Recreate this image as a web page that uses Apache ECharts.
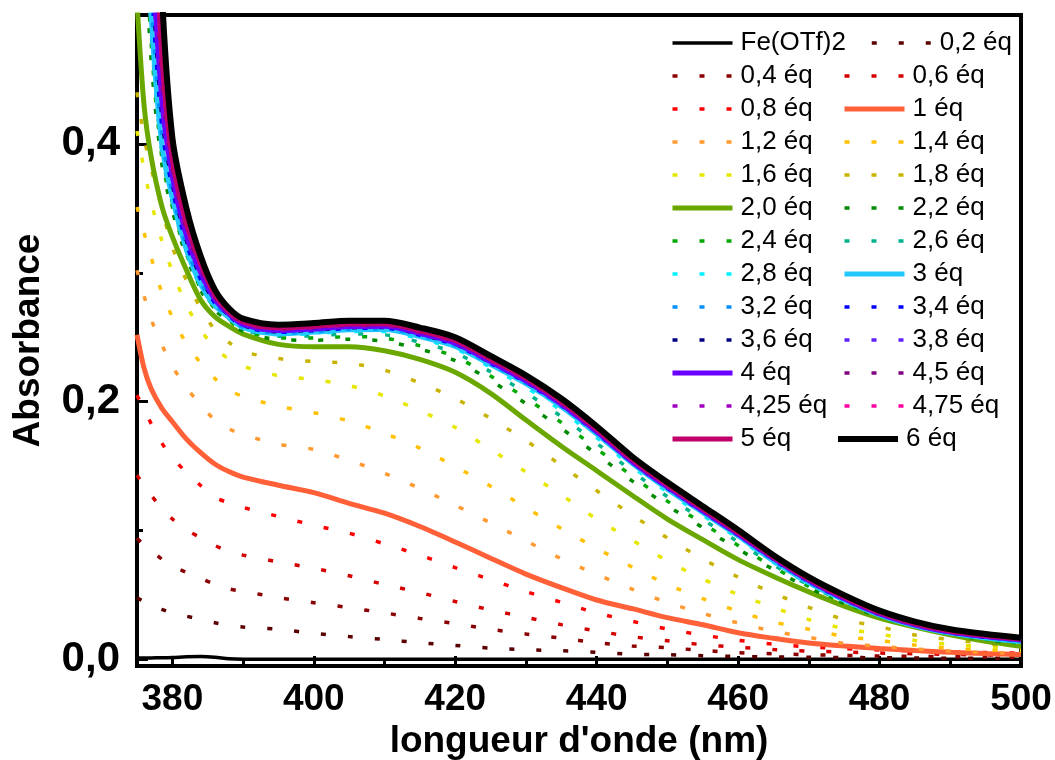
<!DOCTYPE html>
<html><head><meta charset="utf-8">
<script src="https://cdn.jsdelivr.net/npm/echarts@6/dist/echarts.min.js"></script>
<style>html,body{margin:0;padding:0;background:#fff}#c{width:1055px;height:760px}</style>
</head><body><div id="c"></div>
<script>
// wavelength grid (nm)
const wl = [375, 376, 377, 378.5, 380, 382, 384, 386, 388, 390, 395, 400, 405, 410, 415, 420, 425, 430, 435, 440, 445, 450, 455, 460, 465, 470, 475, 480, 485, 490, 495, 500];

const fe    = [0.0012,0.0012,0.0013,0.0014,0.0016,0.0021,0.0023,0.0018,0.0006,0.0003,0.0003,0.0003,0.0003,0.0003,0.0003,0.0003,0.0003,0.0003,0.0003,0.0003,0.0003,0.0003,0.0003,0.0003,0.0003,0.0002,0.0002,0.0002,0.0002,0.0002,0.0002,0.0002];
const eq02  = [0.048,0.045,0.0425,0.039,0.036,0.0336,0.031,0.0286,0.0264,0.0252,0.0235,0.0203,0.0178,0.0156,0.013,0.011,0.0089,0.0077,0.0068,0.0057,0.0041,0.0037,0.003,0.0024,0.002,0.0018,0.0016,0.0014,0.0012,0.001,0.001,0.001];
const eq04  = [0.094,0.089,0.0846,0.078,0.0725,0.0675,0.063,0.0585,0.0548,0.053,0.048,0.0441,0.0402,0.0362,0.0319,0.0279,0.0235,0.0198,0.0166,0.0131,0.0105,0.0091,0.0071,0.0053,0.0045,0.0038,0.0032,0.0028,0.0025,0.0022,0.002,0.0018];
const eq06  = [0.143,0.135,0.1275,0.1175,0.109,0.1005,0.0945,0.0885,0.084,0.081,0.0757,0.0708,0.065,0.0582,0.052,0.045,0.0385,0.0328,0.0271,0.0222,0.0178,0.0145,0.0115,0.0095,0.0078,0.0066,0.0058,0.005,0.0045,0.004,0.0036,0.0033];
const eq08  = [0.205,0.194,0.183,0.168,0.157,0.145,0.135,0.126,0.1215,0.118,0.111,0.1042,0.098,0.0897,0.081,0.0713,0.062,0.0527,0.0444,0.0362,0.0297,0.0237,0.019,0.015,0.012,0.0098,0.0085,0.0075,0.0067,0.006,0.0055,0.005];
const eq10  = [0.252,0.226,0.21,0.195,0.1845,0.171,0.1605,0.1517,0.1458,0.1415,0.1352,0.1295,0.1212,0.1135,0.1032,0.0912,0.0786,0.0663,0.0558,0.0462,0.0395,0.0325,0.027,0.0208,0.0165,0.0128,0.0105,0.0085,0.007,0.0057,0.0047,0.0039];
const eq12  = [0.302,0.282,0.264,0.2445,0.2275,0.211,0.1975,0.186,0.179,0.1745,0.167,0.163,0.1545,0.1445,0.1327,0.1197,0.106,0.0921,0.0782,0.0661,0.0546,0.0442,0.0358,0.0284,0.022,0.0172,0.0125,0.0103,0.0082,0.0066,0.0055,0.0048];
const eq14  = [0.351,0.331,0.312,0.285,0.2655,0.245,0.23,0.218,0.209,0.2042,0.1965,0.1915,0.185,0.1755,0.164,0.1497,0.1345,0.1178,0.1016,0.0863,0.0718,0.0583,0.0472,0.0375,0.0292,0.0235,0.018,0.0148,0.0112,0.0088,0.0075,0.0065];
const eq16  = [0.41,0.38,0.355,0.325,0.301,0.275,0.256,0.242,0.233,0.2275,0.2202,0.2172,0.2125,0.2045,0.193,0.18,0.163,0.1455,0.1277,0.109,0.0927,0.0765,0.0625,0.0505,0.0405,0.031,0.024,0.0198,0.0148,0.0118,0.0098,0.008];
const eq18  = [0.44,0.405,0.381,0.35,0.32,0.294,0.2725,0.256,0.246,0.239,0.2335,0.2312,0.2298,0.2245,0.2145,0.2025,0.187,0.1698,0.1505,0.131,0.1122,0.0943,0.078,0.064,0.0515,0.0405,0.031,0.0255,0.019,0.0155,0.0125,0.0095];
const eq20  = [0.51,0.43,0.39,0.352,0.328,0.302,0.279,0.266,0.2585,0.2525,0.2445,0.2426,0.2426,0.2395,0.2328,0.2228,0.2065,0.1858,0.1655,0.1465,0.1275,0.109,0.093,0.0775,0.0645,0.0525,0.0415,0.0322,0.0252,0.0192,0.0142,0.0103];
const eq22  = [0.72,0.57,0.465,0.385,0.348,0.3125,0.2866,0.2712,0.2625,0.2547,0.2482,0.2477,0.2485,0.2469,0.2408,0.2319,0.2165,0.1985,0.1793,0.1593,0.1386,0.1194,0.1024,0.0857,0.0699,0.0556,0.0435,0.0332,0.0256,0.0198,0.0154,0.012];
const eq24  = [0.75,0.59,0.478,0.39,0.351,0.3145,0.2878,0.2722,0.2632,0.2555,0.2495,0.2494,0.2505,0.2494,0.2434,0.2349,0.2199,0.2027,0.1839,0.1636,0.1423,0.1229,0.1056,0.0885,0.0717,0.0567,0.0442,0.0336,0.0258,0.02,0.0158,0.0125];
const eq26  = [0.775,0.605,0.487,0.394,0.354,0.316,0.289,0.273,0.2642,0.2562,0.2507,0.2511,0.2525,0.2519,0.2461,0.2379,0.2232,0.2069,0.1885,0.1679,0.146,0.1264,0.1087,0.0912,0.0735,0.0577,0.0449,0.034,0.026,0.0202,0.0162,0.0131];
const eq28  = [0.8,0.62,0.494,0.397,0.356,0.317,0.2902,0.2739,0.265,0.257,0.252,0.2529,0.2545,0.2544,0.2487,0.241,0.2266,0.2112,0.1931,0.1722,0.1497,0.1299,0.1119,0.094,0.0753,0.0588,0.0456,0.0343,0.0261,0.0204,0.0165,0.0136];
const eq30  = [0.82,0.63,0.5,0.4,0.358,0.318,0.291,0.2745,0.2655,0.2575,0.2528,0.254,0.2558,0.256,0.2505,0.243,0.2288,0.214,0.1962,0.175,0.1522,0.1322,0.114,0.0958,0.0765,0.0595,0.046,0.0345,0.0262,0.0205,0.0168,0.014];
const eq32  = [0.85,0.65,0.514,0.407,0.3614,0.3202,0.2928,0.2755,0.266,0.258,0.2533,0.2545,0.2563,0.2565,0.251,0.2435,0.2293,0.2144,0.1966,0.1754,0.1525,0.1325,0.1143,0.0961,0.0769,0.0598,0.0462,0.0347,0.0264,0.0207,0.017,0.0142];
const eq34  = [0.88,0.67,0.528,0.414,0.3648,0.3224,0.2946,0.2765,0.2665,0.2585,0.2538,0.255,0.2568,0.257,0.2515,0.244,0.2297,0.2148,0.197,0.1757,0.1528,0.1328,0.1146,0.0964,0.0773,0.0602,0.0465,0.0349,0.0265,0.0208,0.0172,0.0145];
const eq36  = [0.91,0.69,0.542,0.421,0.3682,0.3246,0.2964,0.2775,0.267,0.259,0.2543,0.2555,0.2573,0.2575,0.252,0.2445,0.2302,0.2153,0.1973,0.1761,0.1531,0.1332,0.1149,0.0966,0.0777,0.0605,0.0467,0.0351,0.0267,0.021,0.0174,0.0147];
const eq38  = [0.94,0.71,0.556,0.428,0.3716,0.3268,0.2982,0.2785,0.2675,0.2595,0.2548,0.256,0.2578,0.258,0.2525,0.245,0.2306,0.2157,0.1977,0.1765,0.1534,0.1335,0.1152,0.0969,0.0781,0.0609,0.0469,0.0353,0.0268,0.0211,0.0176,0.0149];
const eq40  = [0.97,0.73,0.57,0.435,0.375,0.329,0.3,0.2795,0.268,0.26,0.2553,0.2565,0.2583,0.2585,0.253,0.2455,0.2311,0.2161,0.1981,0.1768,0.1537,0.1338,0.1155,0.0972,0.0785,0.0612,0.0472,0.0355,0.027,0.0213,0.0178,0.0152];
const eq425 = [1.01,0.76,0.59,0.444,0.378,0.331,0.302,0.2804,0.2685,0.2605,0.2558,0.257,0.2588,0.259,0.2535,0.246,0.2316,0.2166,0.1986,0.1773,0.1541,0.1342,0.1159,0.0976,0.0788,0.0615,0.0475,0.0358,0.0272,0.0215,0.018,0.0154];
const eq45  = [1.05,0.79,0.61,0.453,0.3815,0.3335,0.3035,0.2812,0.2689,0.261,0.2563,0.2575,0.2593,0.2595,0.254,0.2465,0.2321,0.2171,0.1991,0.1778,0.1545,0.1346,0.1163,0.0979,0.079,0.0618,0.0478,0.036,0.0275,0.0217,0.0182,0.0156];
const eq475 = [1.08,0.82,0.63,0.461,0.385,0.3358,0.3053,0.2821,0.2694,0.2615,0.2568,0.258,0.2598,0.26,0.2545,0.247,0.2326,0.2176,0.1996,0.1783,0.1549,0.135,0.1166,0.0983,0.0792,0.0621,0.0481,0.0362,0.0278,0.0219,0.0184,0.0158];
const eq50  = [1.12,0.85,0.65,0.47,0.388,0.338,0.307,0.283,0.2698,0.262,0.2573,0.2585,0.2603,0.2605,0.255,0.2475,0.2331,0.2181,0.2001,0.1787,0.1553,0.1354,0.117,0.0986,0.0795,0.0625,0.0485,0.0365,0.028,0.0222,0.0187,0.016];
const eq60  = [1.3,1.0,0.75,0.52,0.405,0.35,0.313,0.287,0.2725,0.2645,0.2598,0.261,0.2628,0.2628,0.2575,0.25,0.2355,0.2205,0.2025,0.181,0.1575,0.1375,0.119,0.1005,0.081,0.064,0.05,0.038,0.0295,0.0235,0.0198,0.017];

const names = ['Fe(OTf)2','0,2 éq','0,4 éq','0,6 éq','0,8 éq','1 éq','1,2 éq','1,4 éq','1,6 éq','1,8 éq','2,0 éq','2,2 éq','2,4 éq','2,6 éq','2,8 éq','3 éq','3,2 éq','3,4 éq','3,6 éq','3,8 éq','4 éq','4,25 éq','4,5 éq','4,75 éq','5 éq','6 éq'];
const values = [fe,eq02,eq04,eq06,eq08,eq10,eq12,eq14,eq16,eq18,eq20,eq22,eq24,eq26,eq28,eq30,eq32,eq34,eq36,eq38,eq40,eq425,eq45,eq475,eq50,eq60];

// legend layout (columns)
const legCol1 = ['Fe(OTf)2','0,4 éq','0,8 éq','1,2 éq','1,6 éq','2,0 éq','2,4 éq','2,8 éq','3,2 éq','3,6 éq','4 éq','4,25 éq','5 éq'];
const legCol2 = ['0,6 éq','1 éq','1,4 éq','1,8 éq','2,2 éq','2,6 éq','3 éq','3,4 éq','3,8 éq','4,5 éq','4,75 éq'];
const legFirst = ['0,2 éq'];
const legLast = ['6 éq'];

const xTicks = [380,400,420,440,460,480,500];
const xMinor = [390,410,430,450,470,490];
const yTicks = [0,0.2,0.4];
const yMinor = [0.1,0.3];

// styles
const solid  = [1,0,0,0,0,1,0,0,0,0,1,0,0,0,0,1,0,0,0,0,1,0,0,0,1,1];
const colors = ['#000000','#5a0000','#8b0000','#d40000','#ff0000','#ff6038','#ff9a30','#ffc000','#e6e600','#c8b400','#6aa800','#008a00','#00a800','#00b38a','#00f0ff','#22c8ff','#0090ff','#0000ff','#000080','#6020ff','#6a00ff','#a000c0','#800080','#ff00a0','#c0006a','#000000'];
const widths = [3.5,3.5,3.5,3.5,3.5,5,3.5,3.5,3.5,3.5,5,3.5,3.5,3.5,3.5,5,3.5,3.5,3.5,3.5,5,3.5,3.5,3.5,5,6];

const FONT = '"Liberation Sans", Arial, Helvetica, sans-serif';
const chart = echarts.init(document.getElementById('c'), null, {renderer:'canvas'});

const series = names.map((n,i)=>({
  name:n, type:'line', smooth:0.3, symbol:'none', showSymbol:false, clip:true,
  data: wl.map((x,j)=>[x, values[i][j]]),
  itemStyle:{color:colors[i]},
  lineStyle: solid[i] ? {color:colors[i], width:widths[i], type:'solid'}
                      : {color:colors[i], width:widths[i], type:[5,22], cap:'butt'},
  emphasis:{disabled:true}, z: 2
}));

const legBase = {
  orient:'vertical', itemWidth:60, itemHeight:14, itemGap:7, padding:0,
  itemStyle:{opacity:0},
  lineStyle:{width:'inherit'},
  textStyle:{fontFamily:FONT, fontSize:26, color:'#000', lineHeight:26, padding:[0,0,0,3]},
  selectedMode:false
};

const commas = v => v.toFixed(1).replace('.', ',');

chart.setOption({
  animation:false,
  backgroundColor:'#fff',
  grid:{left:137, right:34, top:15, bottom:94, show:true, borderColor:'#000', borderWidth:4, backgroundColor:'transparent', outerBoundsMode:'none', containLabel:false},
  legend:[
    Object.assign({}, legBase, {data:legCol1, left:670, top:30}),
    Object.assign({}, legBase, {data:legFirst, left:870, top:30}),
    Object.assign({}, legBase, {data:legCol2, left:842, top:63}),
    Object.assign({}, legBase, {data:legLast, left:835, top:426})
  ],
  xAxis:[{
    type:'value', min:375, max:500,
    name:"longueur d'onde (nm)", nameLocation:'middle', nameGap:46,
    nameTextStyle:{fontFamily:FONT, fontSize:37, fontWeight:'bold', color:'#000'},
    axisLine:{show:true, onZero:false, lineStyle:{color:'#000', width:4}},
    axisTick:{show:true, inside:true, length:10, customValues:xTicks, lineStyle:{color:'#000', width:3}},
    axisLabel:{show:true, customValues:xTicks, margin:15, fontFamily:FONT, fontSize:37, fontWeight:'bold', color:'#000'},
    splitLine:{show:false}
  },{
    type:'value', min:375, max:500, position:'bottom',
    axisLine:{show:false, onZero:false},
    axisTick:{show:true, inside:true, length:6, customValues:xMinor, lineStyle:{color:'#000', width:3}},
    axisLabel:{show:false}, splitLine:{show:false}
  }],
  yAxis:[{
    type:'value', min:-0.005, max:0.5,
    name:'Absorbance', nameLocation:'middle', nameGap:90, nameRotate:90,
    nameTextStyle:{fontFamily:FONT, fontSize:37, fontWeight:'bold', color:'#000'},
    axisLine:{show:true, onZero:false, lineStyle:{color:'#000', width:4}},
    axisTick:{show:true, inside:true, length:11, customValues:yTicks, lineStyle:{color:'#000', width:3}},
    axisLabel:{show:true, customValues:yTicks, margin:17, formatter:commas, fontFamily:FONT, fontSize:42, fontWeight:'bold', color:'#000'},
    splitLine:{show:false}
  },{
    type:'value', min:-0.005, max:0.5, position:'left',
    axisLine:{show:false, onZero:false},
    axisTick:{show:true, inside:true, length:6, customValues:yMinor, lineStyle:{color:'#000', width:3}},
    axisLabel:{show:false}, splitLine:{show:false}
  }],
  series: series
});
</script></body></html>
